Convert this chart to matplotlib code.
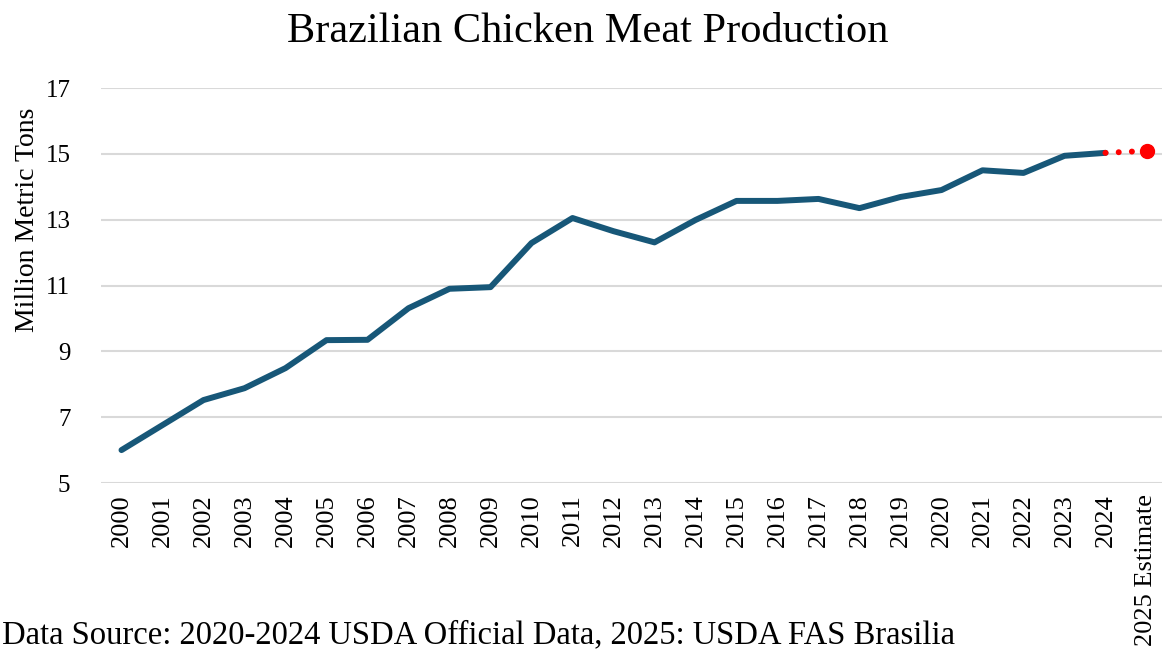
import matplotlib.pyplot as plt
import numpy as np

# data
years = [str(y) for y in range(2000, 2025)]
production = [6.00, 6.76, 7.52, 7.88, 8.49, 9.34, 9.35, 10.31, 10.90, 10.95,
              12.29, 13.05, 12.65, 12.31, 12.99, 13.57, 13.57, 13.63, 13.35,
              13.69, 13.90, 14.50, 14.42, 14.94, 15.03]
estimate_label = "2025 Estimate"
estimate_value = 15.09
y_ticks = [5, 7, 9, 11, 13, 15, 17]

LINE = "#175778"
RED = "#FF0000"
GRID = "#D9D9D9"

plt.rcParams["font.family"] = ["Liberation Serif", "DejaVu Serif"]

fig = plt.figure(figsize=(11.62, 6.56), dpi=100)
ax = fig.add_axes([101 / 1162, 1 - 483 / 656, 1066 / 1162, 395 / 656])

labels = years + [estimate_label]
x = np.arange(len(labels))

ax.plot(x[:len(years)], production, color=LINE, linewidth=4.3,
        solid_capstyle="round", solid_joinstyle="round", zorder=3)

# dotted red projection to the estimate
ax.plot([x[len(years) - 1], x[-1]], [production[-1], estimate_value],
        color=RED, linewidth=4.3, dashes=(0.01, 2.2), dash_capstyle="round",
        zorder=3)
ax.plot([x[-1]], [estimate_value], "o", color=RED, markersize=10, zorder=4)

ax.set_xlim(-0.5, len(labels) - 0.5)
ax.set_ylim(5, 17)
ax.set_yticks(y_ticks)
ax.set_yticklabels([str(t) for t in y_ticks], fontsize=18)
ax.set_xticks(x)
ax.set_xticklabels(labels, rotation=90, fontsize=19, va="top")
ax.tick_params(length=0, pad=8)
ax.tick_params(axis="y", pad=22)

for s in ax.spines.values():
    s.set_visible(False)
ax.grid(axis="y", color=GRID, linewidth=1.5)
ax.set_axisbelow(True)

fig.text(588 / 1162, 1 - 32 / 656, "Brazilian Chicken Meat Production",
         ha="center", va="center", fontsize=30.5)
fig.text(28 / 1162, 1 - 220 / 656, "Million Metric Tons", rotation=90,
         ha="center", va="center", fontsize=20)
fig.text(2 / 1162, 1 - 620 / 656,
         "Data Source: 2020-2024 USDA Official Data, 2025: USDA FAS Brasilia",
         ha="left", va="top", fontsize=23.5)

fig.savefig("out.png", dpi=100)
